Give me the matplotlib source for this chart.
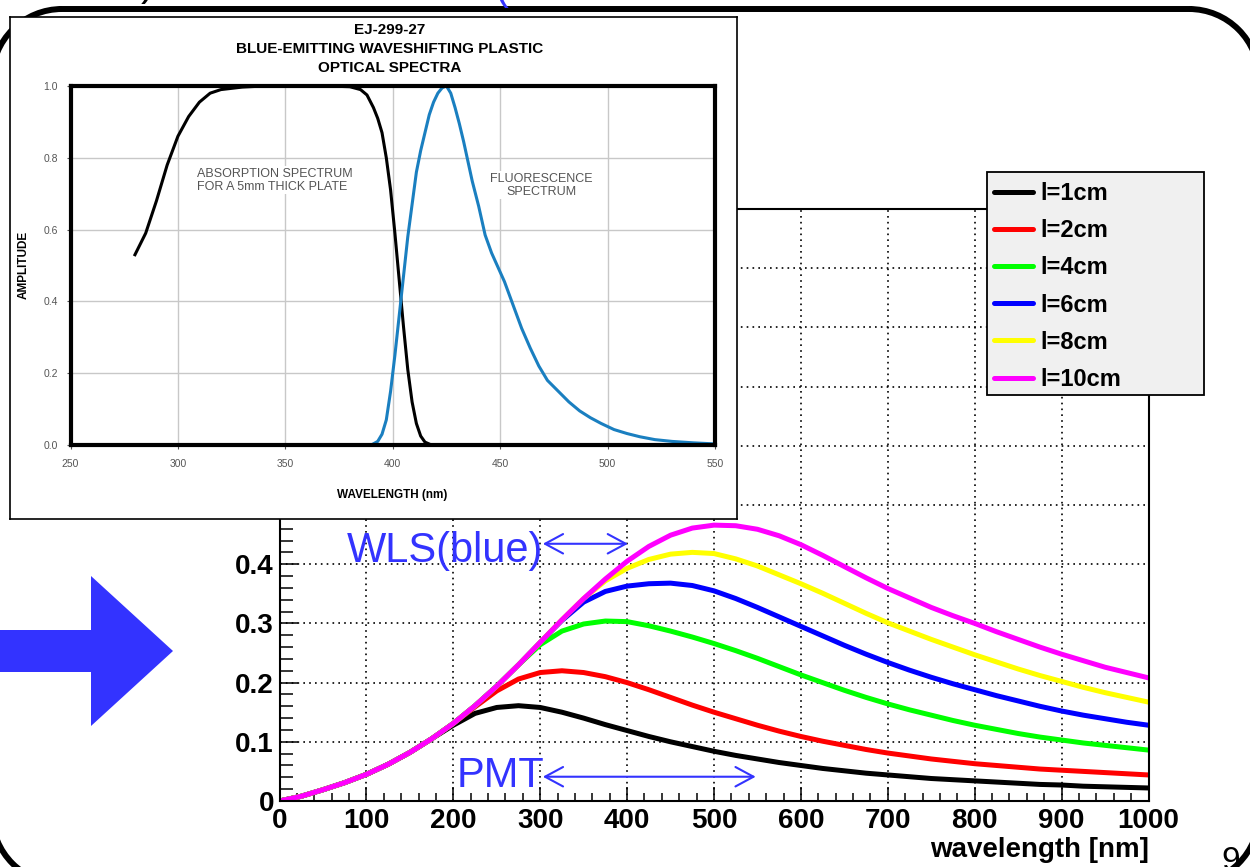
import matplotlib.pyplot as plt
from matplotlib.lines import Line2D
from matplotlib.patches import Arc, Polygon, Rectangle
from matplotlib.ticker import MultipleLocator

plt.rcParams['font.family'] = ['Liberation Sans', 'DejaVu Sans']
plt.rcParams['savefig.bbox'] = 'standard'

W, H = 1250, 867
BLUE = '#3333ff'

# ---- main plot: light yield vs wavelength for several lengths ----
wavelength = [0, 25, 50, 75, 100, 125, 150, 175, 200, 225, 250, 275, 300, 325,
              350, 375, 400, 425, 450, 475, 500, 525, 550, 575, 600, 625, 650,
              675, 700, 725, 750, 775, 800, 825, 850, 875, 900, 925, 950, 975, 1000]

l1cm = [0, 0.008, 0.019, 0.031, 0.045, 0.062, 0.082, 0.105,
        0.128, 0.148, 0.158, 0.161, 0.158, 0.150, 0.140, 0.129, 0.119, 0.109,
        0.100, 0.092, 0.084, 0.077, 0.071, 0.065, 0.060, 0.055, 0.051, 0.047,
        0.044, 0.041, 0.038, 0.036, 0.034, 0.032, 0.030, 0.028, 0.027, 0.025,
        0.024, 0.023, 0.022]
l2cm = [0, 0.008, 0.019, 0.031, 0.045, 0.062, 0.082, 0.105, 0.131, 0.159,
        0.186, 0.206, 0.217, 0.220, 0.217, 0.210, 0.200, 0.188, 0.175, 0.162,
        0.150, 0.139, 0.128, 0.118, 0.109, 0.101, 0.094, 0.087, 0.081, 0.076,
        0.071, 0.067, 0.063, 0.060, 0.057, 0.054, 0.052, 0.050, 0.048, 0.046,
        0.044]
l4cm = [0, 0.008, 0.019, 0.031, 0.045, 0.062, 0.082, 0.105, 0.131, 0.161,
        0.194, 0.230, 0.264, 0.287, 0.299, 0.304, 0.303, 0.296, 0.287, 0.277,
        0.266, 0.254, 0.241, 0.227, 0.213, 0.200, 0.187, 0.175, 0.164, 0.154,
        0.145, 0.136, 0.128, 0.121, 0.114, 0.108, 0.103, 0.098, 0.094, 0.090,
        0.086]
l6cm = [0, 0.008, 0.019, 0.031, 0.045, 0.062, 0.082, 0.105, 0.131, 0.161,
        0.194, 0.230, 0.268, 0.305, 0.336, 0.354, 0.363, 0.367, 0.368, 0.364,
        0.355, 0.342, 0.327, 0.311, 0.295, 0.279, 0.263, 0.248, 0.234, 0.221,
        0.209, 0.198, 0.188, 0.178, 0.169, 0.160, 0.152, 0.145, 0.139, 0.133,
        0.128]
l8cm = [0, 0.008, 0.019, 0.031, 0.045, 0.062, 0.082, 0.105, 0.131, 0.161,
        0.194, 0.230, 0.268, 0.306, 0.342, 0.372, 0.393, 0.408, 0.417, 0.420,
        0.418, 0.409, 0.397, 0.382, 0.367, 0.351, 0.334, 0.317, 0.301, 0.287,
        0.273, 0.260, 0.247, 0.235, 0.223, 0.212, 0.202, 0.192, 0.183, 0.175,
        0.167]
l10cm = [0, 0.008, 0.019, 0.031, 0.045, 0.062, 0.082, 0.105, 0.131, 0.161,
         0.194, 0.230, 0.268, 0.306, 0.342, 0.375, 0.405, 0.430, 0.449, 0.461,
         0.466, 0.465, 0.459, 0.448, 0.433, 0.415, 0.396, 0.377, 0.359, 0.343,
         0.327, 0.313, 0.300, 0.286, 0.273, 0.260, 0.248, 0.237, 0.226, 0.217,
         0.208]

series = [l1cm, l2cm, l4cm, l6cm, l8cm, l10cm]
series_labels = ['l=1cm', 'l=2cm', 'l=4cm', 'l=6cm', 'l=8cm', 'l=10cm']
series_colors = ['#000000', '#ff0000', '#00ff00', '#0000ff', '#ffff00', '#ff00ff']

main_xticks = [0, 100, 200, 300, 400, 500, 600, 700, 800, 900, 1000]
main_yticks = [0, 0.1, 0.2, 0.3, 0.4, 0.5, 0.6, 0.7, 0.8, 0.9, 1.0]
main_yticklabels = ['0', '0.1', '0.2', '0.3', '0.4', '0.5', '0.6', '0.7', '0.8', '0.9', '1']

# sensitive ranges marked on the plot
wls_range = [303, 401]
wls_level = 0.4345
pmt_range = [303, 548]
pmt_level = 0.041

# ---- inset: EJ-299-27 optical spectra ----
absorb_nm = [280, 285, 290, 295, 300, 305, 310, 315, 320, 330, 340, 350, 360,
             370, 380, 385, 388, 391, 393, 395, 397, 399, 401, 403, 405, 407,
             409, 411, 413, 415, 418, 430]
absorb_amp = [0.53, 0.59, 0.68, 0.78, 0.86, 0.915, 0.955, 0.98, 0.99, 0.997,
              1.0, 1.0, 1.0, 1.0, 0.998, 0.99, 0.975, 0.94, 0.91, 0.87, 0.80,
              0.71, 0.59, 0.46, 0.33, 0.21, 0.12, 0.06, 0.025, 0.008, 0.0, 0.0]

fluor_nm = [390, 393, 395, 397, 399, 401, 403, 405, 407, 409, 411, 413, 415,
            417, 419, 421, 423, 425, 427, 429, 431, 433, 435, 437, 440, 443,
            446, 449, 452, 456, 460, 464, 468, 472, 477, 482, 487, 492, 497,
            503, 509, 515, 522, 530, 540, 550]
fluor_amp = [0.0, 0.01, 0.03, 0.07, 0.15, 0.25, 0.36, 0.47, 0.58, 0.67, 0.76,
             0.82, 0.87, 0.92, 0.955, 0.98, 0.995, 1.0, 0.98, 0.94, 0.895,
             0.845, 0.79, 0.735, 0.665, 0.585, 0.535, 0.495, 0.455, 0.39,
             0.325, 0.27, 0.22, 0.18, 0.15, 0.12, 0.095, 0.076, 0.06, 0.043,
             0.032, 0.023, 0.015, 0.01, 0.006, 0.003]

inset_xticks = [250, 300, 350, 400, 450, 500, 550]
inset_yticks = [0.0, 0.2, 0.4, 0.6, 0.8, 1.0]
inset_yticklabels = ['0.0', '0.2', '0.4', '0.6', '0.8', '1.0']


def box(x0, y0, x1, y1):
    """pixel box (top-left origin) -> figure fraction rect"""
    return [x0 / W, 1 - y1 / H, (x1 - x0) / W, (y1 - y0) / H]


def inch(x, y):
    """pixel point (top-left origin) -> inches from bottom-left"""
    return x / 100, (H - y) / 100


fig = plt.figure(figsize=(W / 100, H / 100), dpi=100)
tr = fig.dpi_scale_trans

# slide frame: top edge plus the four rounded corners (the sides fall off the canvas)
fl, fr, ft, fb, rad = -8, 1259, 9, 884, 70
(x0, y0), (x1, y1) = inch(fl + rad, ft), inch(fr - rad, ft)
fig.add_artist(Line2D([x0, x1], [y0, y1], color='black', lw=4.3, transform=tr))
for cx, cy, t1, t2 in [(fl + rad, ft + rad, 90, 180), (fr - rad, ft + rad, 0, 90),
                       (fl + rad, fb - rad, 180, 270), (fr - rad, fb - rad, 270, 360)]:
    fig.add_artist(Arc(inch(cx, cy), 2 * rad / 100, 2 * rad / 100, theta1=t1, theta2=t2,
                       edgecolor='black', lw=4.3, transform=tr))

# bits of the slide heading and the page number, cut by the canvas edges
fig.text(141 / W, 1 + 5 / H, ')', fontsize=30, va='baseline', ha='left')
fig.text(494 / W, 1 + 1 / H, '(', fontsize=30, va='baseline', ha='left', color=BLUE)
fig.text(1221 / W, -3 / H, '9', ha='left', va='baseline', fontsize=24)

# big arrow on the left
arrow_px = [(0, 630), (91, 630), (91, 576), (173, 651), (91, 726), (91, 672), (0, 672)]
fig.add_artist(Polygon([inch(x, y) for x, y in arrow_px], closed=True, transform=tr,
                       facecolor=BLUE, edgecolor='none'))

# ---- main axes ----
ax = fig.add_axes(box(279.5, 209, 1148.5, 801))
lines = []
for ys, lab, col in zip(series, series_labels, series_colors):
    ln, = ax.plot(wavelength, ys, color=col, lw=3.6, label=lab,
                  solid_joinstyle='round', solid_capstyle='round')
    lines.append(ln)

ax.set_xlim(0, 1000)
ax.set_ylim(0, 1)
ax.set_xticks(main_xticks)
ax.set_xticklabels([str(v) for v in main_xticks])
ax.set_yticks(main_yticks)
ax.set_yticklabels(main_yticklabels)
ax.xaxis.set_minor_locator(MultipleLocator(20))
ax.yaxis.set_minor_locator(MultipleLocator(0.02))
for lab in ax.get_xticklabels() + ax.get_yticklabels():
    lab.set_fontweight('bold')
    lab.set_fontsize(20)
ax.tick_params(axis='x', which='major', direction='in', length=10, width=1.1, pad=5)
ax.tick_params(axis='x', which='minor', direction='in', length=6, width=1.1)
ax.tick_params(axis='y', which='major', direction='in', length=13, width=1.1, pad=4)
ax.tick_params(axis='y', which='minor', direction='in', length=9, width=1.1)
ax.grid(which='major', color='black', linestyle=(0, (1, 2.5)), linewidth=1.2)
for sp in ax.spines.values():
    sp.set_linewidth(1.5)
ax.set_xlabel('wavelength [nm]', loc='right', fontweight='bold', fontsize=20, labelpad=2)

ax.annotate('', xy=(wls_range[1], wls_level), xytext=(wls_range[0], wls_level),
            arrowprops=dict(arrowstyle='<->,head_length=1.3,head_width=0.7',
                            color=BLUE, lw=1.5, shrinkA=0, shrinkB=0, mutation_scale=10))
ax.text(wls_range[0], 0.403, 'WLS(blue)', ha='right', va='baseline', fontsize=30, color=BLUE)
ax.annotate('', xy=(pmt_range[1], pmt_level), xytext=(pmt_range[0], pmt_level),
            arrowprops=dict(arrowstyle='<->,head_length=1.3,head_width=0.7',
                            color=BLUE, lw=1.5, shrinkA=0, shrinkB=0, mutation_scale=10))
ax.text(pmt_range[0] + 2, 0.0236, 'PMT', ha='right', va='baseline', fontsize=30, color=BLUE)

# legend box
fig.add_artist(Rectangle((987 / W, 1 - 395 / H), 217 / W, 223 / H,
                         facecolor='#f0f0f0', edgecolor='black', linewidth=1.3, zorder=4))
fig.legend(handles=lines, labels=series_labels, loc='upper left',
           bbox_to_anchor=(994 / W, 1 - 182 / H), frameon=False,
           borderpad=0, borderaxespad=0, handlelength=1.65, handletextpad=0.3,
           labelspacing=0.6, prop=dict(weight='bold', size=17))

# ---- inset with the scintillator spectra ----
ax_box = fig.add_axes(box(10, 17, 737, 519), zorder=2)
ax_box.set_xticks([])
ax_box.set_yticks([])
for sp in ax_box.spines.values():
    sp.set_linewidth(1.2)

ax_in = fig.add_axes(box(70.5, 86, 715, 445), zorder=3)
ax_in.plot(absorb_nm, absorb_amp, color='black', lw=2.2)
ax_in.plot(fluor_nm, fluor_amp, color='#1a7fc0', lw=2.2)
ax_in.set_xlim(250, 550)
ax_in.set_ylim(0, 1.0)
ax_in.set_xticks(inset_xticks)
ax_in.set_yticks(inset_yticks)
ax_in.set_yticklabels(inset_yticklabels)
ax_in.grid(color='#c8c8c8', lw=1)
ax_in.set_axisbelow(True)
ax_in.tick_params(length=3, width=0.8, colors='#555555', labelsize=7.5)
ax_in.tick_params(axis='x', pad=7)
ax_in.tick_params(axis='y', pad=6)
for sp in ax_in.spines.values():
    sp.set_linewidth(3)

ax_in.text(309, 0.737, 'ABSORPTION SPECTRUM\nFOR A 5mm THICK PLATE', ha='left', va='center',
           fontsize=9, color='#555555', linespacing=1.15,
           bbox=dict(facecolor='white', edgecolor='none', pad=1))
ax_in.text(469, 0.723, 'FLUORESCENCE\nSPECTRUM', ha='center', va='center', multialignment='center',
           fontsize=9, color='#555555', linespacing=1.15,
           bbox=dict(facecolor='white', edgecolor='none', pad=1))

fig.text(390 / W, 1 - 49 / H, 'EJ-299-27\nBLUE-EMITTING WAVESHIFTING PLASTIC\nOPTICAL SPECTRA',
         ha='center', va='center', fontsize=11, fontweight='bold', linespacing=1.45, zorder=5)
fig.text(24 / W, 1 - 265 / H, 'AMPLITUDE', rotation=90, ha='center', va='center',
         fontsize=8.5, fontweight='bold', zorder=5)
fig.text(392 / W, 1 - 495 / H, 'WAVELENGTH (nm)', ha='center', va='center',
         fontsize=8.5, fontweight='bold', zorder=5)

fig.savefig('out.png', dpi=100)
